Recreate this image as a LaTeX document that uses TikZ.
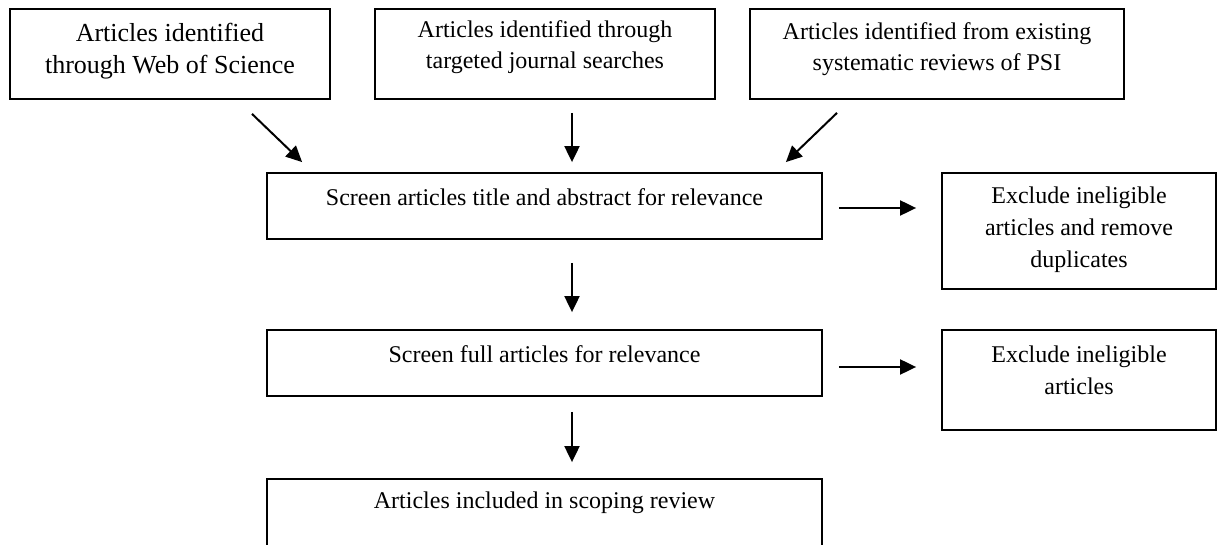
\documentclass[tikz,border=0pt]{standalone}
\usepackage{fontspec}
\setmainfont{Liberation Serif}
\usetikzlibrary{arrows.meta}

\begin{document}
\begin{tikzpicture}[x=0.5pt, y=-0.5pt,
    box/.style={draw, rectangle, line width=0.9pt, inner sep=0pt},
    txt/.style={align=center, inner sep=0pt, font=\fontsize{12}{15.5}\selectfont},
    flow/.style={-{Triangle[length=8pt,width=7.5pt]}, line width=1pt}]
            % Scoping review flow
            \useasboundingbox (0,0) rectangle (1217,545);
            \clip (0,0) rectangle (1217,545);
            \node[box, minimum width=160pt, minimum height=45pt] (wos) at (170,54) {};
            \node[box, minimum width=170pt, minimum height=45pt] (journal) at (545,54) {};
            \node[box, minimum width=187pt, minimum height=45pt] (psi) at (937,54) {};
            \node[box, minimum width=277.5pt, minimum height=33pt] (screen) at (544.5,206) {};
            \node[box, minimum width=137pt, minimum height=58pt] (exclude) at (1079,231) {};
            \node[box, minimum width=277.5pt, minimum height=33pt] (full) at (544.5,363) {};
            \node[box, minimum width=137pt, minimum height=50pt] (excludefull) at (1079,380) {};
            \node[box, minimum width=277.5pt, minimum height=40.5pt] (included) at (544.5,519.5) {};

            \node[txt, font=\fontsize{13}{16}\selectfont] (wostext) at (170,51) {Articles identified\\through Web of Science};
            \node[txt] (journaltext) at (545,47) {Articles identified through\\targeted journal searches};
            \node[txt] (psitext) at (937,49) {Articles identified from existing\\systematic reviews of PSI};
            \node[txt] (screentext) at (544.5,197) {Screen articles title and abstract for relevance};
            \node[txt, font=\fontsize{12}{16}\selectfont] (excludetext) at (1079,230) {Exclude ineligible\\articles and remove\\duplicates};
            \node[txt] (fulltext) at (544.5,354) {Screen full articles for relevance};
            \node[txt, font=\fontsize{12}{16}\selectfont] (excludefulltext) at (1079,370) {Exclude ineligible\\articles};
            \node[txt] (includedtext) at (544.5,503) {Articles included in scoping review};

            \draw[flow] ([shift={(82,14)}]wos.south) -- ([shift={(36,-10)}]screen.north west);
            \draw[flow] ([shift={(27,13)}]journal.south) -- ([shift={(27.5,-10)}]screen.north);
            \draw[flow] ([shift={(-100,13)}]psi.south) -- ([shift={(-37,-10)}]screen.north east);
            \draw[flow] ([shift={(16,2)}]screen.east) -- ([shift={(-25,-23)}]exclude.west);
            \draw[flow] ([shift={(27.5,23)}]screen.south) -- ([shift={(27.5,-17)}]full.north);
            \draw[flow] ([shift={(16,4)}]full.east) -- ([shift={(-25,-13)}]excludefull.west);
            \draw[flow] ([shift={(27.5,15)}]full.south) -- ([shift={(27.5,-16)}]included.north);
        \end{tikzpicture}
\end{document}
